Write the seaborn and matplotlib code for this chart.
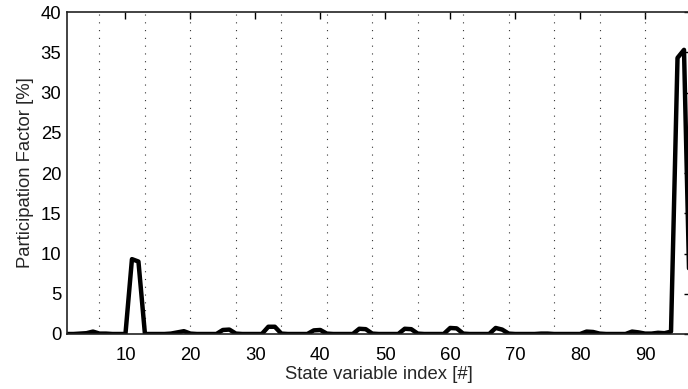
import matplotlib
matplotlib.use("Agg")
import matplotlib.pyplot as plt
import seaborn as sns
import pandas as pd
import numpy as np

# State variable index 1..97
state_index = list(range(1, 98))
participation = [
    0.0, 0.0, 0.05, 0.1, 0.3, 0.05, 0.05,          # 1-7
    0.0, 0.0, 0.0, 9.3, 9.0, 0.0, 0.0,             # 8-14
    0.0, 0.0, 0.05, 0.2, 0.35, 0.05, 0.0,          # 15-21
    0.0, 0.0, 0.0, 0.5, 0.55, 0.05, 0.0,           # 22-28
    0.0, 0.0, 0.0, 0.9, 0.9, 0.05, 0.0,            # 29-35
    0.0, 0.0, 0.0, 0.45, 0.5, 0.05, 0.0,           # 36-42
    0.0, 0.0, 0.0, 0.65, 0.6, 0.05, 0.0,           # 43-49
    0.0, 0.0, 0.0, 0.65, 0.6, 0.05, 0.0,           # 50-56
    0.0, 0.0, 0.0, 0.75, 0.7, 0.05, 0.0,           # 57-63
    0.0, 0.0, 0.0, 0.75, 0.55, 0.05, 0.0,          # 64-70
    0.0, 0.0, 0.0, 0.05, 0.05, 0.0, 0.0,           # 71-77
    0.0, 0.0, 0.0, 0.3, 0.25, 0.05, 0.0,           # 78-84
    0.0, 0.0, 0.0, 0.3, 0.2, 0.05, 0.05,           # 85-91
    0.15, 0.1, 0.3, 34.3, 35.3, 0.0,               # 92-97
]

x_ticks = [10, 20, 30, 40, 50, 60, 70, 80, 90]
y_ticks = [0, 5, 10, 15, 20, 25, 30, 35, 40]
grid_positions = [6, 13, 20, 27, 34, 41, 48, 55, 62, 69, 76, 83, 90, 97]

df = pd.DataFrame({"idx": state_index, "pf": participation})

sns.set_style("white")
plt.rcParams["font.family"] = ["Liberation Sans", "DejaVu Sans"]

W, H = 688, 389
fig = plt.figure(figsize=(W / 100, H / 100), dpi=100)
left, right, bottom, top = 67, 690.5, 389 - 334, 389 - 12
ax = fig.add_axes([left / W, bottom / H, (right - left) / W, (top - bottom) / H])

sns.lineplot(data=df, x="idx", y="pf", ax=ax, color="black", linewidth=3.2)

ax.set_xlim(1, 97)
ax.set_ylim(0, 40)
ax.xaxis.remove_overlapping_locs = False
ax.set_xticks(x_ticks)
ax.set_yticks(y_ticks)
ax.set_xticks(grid_positions, minor=True)
ax.tick_params(which="minor", length=0)
ax.grid(False)
ax.grid(which="minor", axis="x", linestyle=(0, (1, 6)), color="#333333", linewidth=0.8)

fs = 13.3
ax.tick_params(which="major", direction="in", length=5, width=1,
               top=True, right=True, labelsize=fs, colors="black")
ax.tick_params(axis="x", which="major", pad=9)
ax.tick_params(axis="y", which="major", pad=4)
for s in ax.spines.values():
    s.set_linewidth(1.2)
    s.set_color("#222222")

ax.set_xlabel("State variable index [#]", fontsize=fs, labelpad=2)
ax.set_ylabel("Participation Factor [%]", fontsize=fs, labelpad=5)

fig.savefig("out.png", dpi=100)
